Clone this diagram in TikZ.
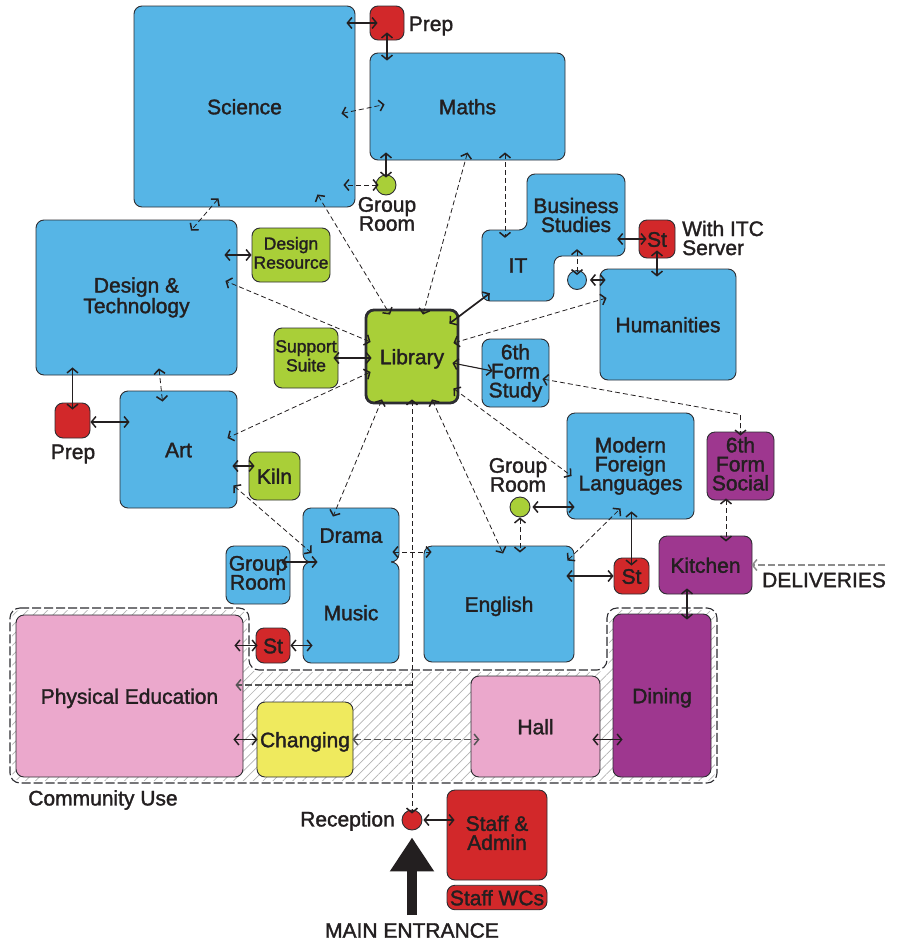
\documentclass[tikz,border=0pt]{standalone}
\usepackage{fontspec}
\setmainfont{Liberation Sans}[FakeBold=1.6]
\usepackage{tikz}
\usetikzlibrary{arrows.meta}
\usetikzlibrary{patterns.meta}

\definecolor{roomblue}{RGB}{86,181,230}
\definecolor{roomgreen}{RGB}{169,207,56}
\definecolor{roomred}{RGB}{210,40,42}
\definecolor{roompurple}{RGB}{158,55,143}
\definecolor{roompink}{RGB}{235,168,204}
\definecolor{roomyellow}{RGB}{239,234,94}
\definecolor{ink}{RGB}{35,31,32}
\definecolor{edge}{RGB}{45,45,50}
\definecolor{lane}{RGB}{85,85,85}
\definecolor{road}{RGB}{140,140,140}
\definecolor{hatch}{RGB}{178,178,178}

\newcommand{\roomfont}{\fontsize{21}{19}\selectfont}
\newcommand{\resfont}{\fontsize{17.5}{19}\selectfont}

\begin{document}
\begin{tikzpicture}
    [
    x=1pt, y=-1pt,
    >={Straight Barb[length=4.5pt,width=11pt,line width=1.5pt]},
    room/.style={draw=edge,line width=0.9pt,rounded corners=8pt,inner sep=0pt,align=center,text=ink,font=\roomfont,
      execute at begin node={\rule{0pt}{20pt}},execute at end node={\rule[-4.5pt]{0pt}{4.5pt}}},
    dims/.style 2 args={minimum width=#1pt,minimum height=#2pt},
    bluebox/.style={room,fill=roomblue},
    greenbox/.style={room,fill=roomgreen},
    redbox/.style={room,fill=roomred},
    purplebox/.style={room,fill=roompurple},
    pinkbox/.style={room,fill=roompink},
    yellowbox/.style={room,fill=roomyellow},
    spot/.style={circle,draw=edge,line width=0.9pt,inner sep=0pt,minimum size=#1pt},
    lbl/.style={text=ink,font=\roomfont,align=center,inner sep=0pt},
    link/.style={draw=ink,line width=1.7pt,<->},
    slink/.style={draw=ink,line width=1.1pt,<->},
    dlink/.style={draw=ink,line width=0.8pt,dash pattern=on 5pt off 3pt,<->},
    glink/.style={draw=lane,line width=1.3pt,dash pattern=on 7pt off 3pt},
    ends/.style 2 args={shorten <=-#1pt,shorten >=-#2pt}
    ]
    \useasboundingbox (0,0) rectangle (898,945);

    % community use zone
    \path [rounded corners=10pt,pattern={Lines[angle=45,distance=7pt,line width=0.7pt]},pattern color=hatch,
      postaction={draw=white,line width=4pt},
      postaction={draw=edge,line width=1.1pt,dash pattern=on 9pt off 3pt}]
      (10,608) -- (249,608) -- (249,670) -- (607,670) -- (607,608) -- (717,608) -- (717,783) -- (10,783) -- cycle;

    % IT and business studies share one outline
    \filldraw [fill=roomblue,draw=edge,line width=0.9pt,rounded corners=8pt]
      (527,174) -- (625,174) -- (625,256) -- (554,256) -- (554,301) -- (482,301) -- (482,230) -- (527,230) -- cycle;

    \node (sci) at (244.5,106.5) [bluebox,dims={221}{201}] {Science};
    \node (prepA) at (387,23) [redbox,dims={34}{34}] {};
    \node (prepAtxt) at (431,26) [lbl] {Prep};
    \node (maths) at (467.5,106.5) [bluebox,dims={195}{107}] {Maths};
    \node (grpA) at (386,185) [spot=20,fill=roomgreen] {};
    \node (grpAtxt) at (387,214) [lbl] {Group\\Room};
    \node (dt) at (136.5,297.5) [bluebox,dims={201}{155}] {Design \&\\Technology};
    \node (dres) at (291,255) [greenbox,dims={78}{54},font=\resfont] {Design\\Resource};
    \node (bus) at (576,215) [lbl,dims={98}{82}] {Business\\Studies};
    \node (it) at (518,265.5) [lbl,dims={72}{71}] {IT};
    \node (stB) at (657,239) [redbox,dims={36}{38}] {St};
    \node (itc) at (682,238) [lbl,anchor=west,align=left] {With ITC\\Server};
    \node (hcirc) at (577,280) [spot=19,fill=roomblue] {};
    \node (hum) at (668,324.5) [bluebox,dims={136}{111}] {Humanities};
    \node (lib) at (412,356.5) [greenbox,dims={92}{93},line width=2.8pt] {Library};
    \node (sup) at (306,358) [greenbox,dims={64}{60},font=\resfont] {Support\\Suite};
    \node (fstudy) at (515.5,373) [bluebox,dims={67}{68}] {6th\\Form\\Study};
    \node (prepL) at (72.5,420.5) [redbox,dims={35}{35}] {};
    \node (prepLtxt) at (73,454) [lbl] {Prep};
    \node (art) at (178.5,449.5) [bluebox,dims={117}{117}] {Art};
    \node (kiln) at (274.5,476) [greenbox,dims={51}{48}] {Kiln};
    \node (drama) at (351,535) [bluebox,dims={96}{54}] {Drama};
    \node (music) at (351,612.5) [bluebox,dims={96}{101}] {Music};
    \fill [roomblue] ([shift={(8,-4)}]drama.south west) rectangle ([shift={(-8,4)}]drama.south east);
    \node (grpL) at (258,575) [bluebox,dims={64}{58}] {Group\\Room};
    \node (eng) at (499,604) [bluebox,dims={150}{116}] {English};
    \node (grpM) at (520,507) [spot=20,fill=roomgreen] {};
    \node (grpMtxt) at (518,475) [lbl] {Group\\Room};
    \node (mfl) at (630.5,466) [bluebox,dims={127}{106}] {Modern\\Foreign\\Languages};
    \node (social) at (740.5,466) [purplebox,dims={67}{68}] {6th\\Form\\Social};
    \node (stE) at (631.5,576) [redbox,dims={35}{36}] {St};
    \node (kitchen) at (705.5,565) [purplebox,dims={93}{58}] {Kitchen};
    \node (dlvtxt) at (824,580) [lbl] {DELIVERIES};
    \coordinate (dlv) at (885,565);
    \node (pe) at (129.5,696) [pinkbox,dims={227}{162}] {Physical Education};
    \node (stP) at (273,645.5) [redbox,dims={34}{35}] {St};
    \node (chg) at (305,739.5) [yellowbox,dims={96}{75}] {Changing};
    \node (hall) at (535.5,726.5) [pinkbox,dims={129}{101}] {Hall};
    \node (dining) at (662,695.5) [purplebox,dims={98}{163}] {Dining};
    \node (comm) at (103,800) [lbl] {Community Use};
    \node (rec) at (412,820) [spot=20,fill=roomred] {};
    \node (rectxt) at (347.5,821) [lbl] {Reception};
    \node (staff) at (497,835) [redbox,dims={100}{90}] {Staff \&\\Admin};
    \node (wcs) at (497,897.5) [redbox,dims={100}{21},execute at begin node={\rule{0pt}{16pt}},execute at end node={\rule[-4pt]{0pt}{4pt}}] {Staff WCs};
    \node (mainent) at (412,930.5) [lbl] {MAIN ENTRANCE};
    \coordinate (entr) at (412,915);
    \coordinate (peT) at (412,685);

    % science, maths and the top rooms
    \draw [link,ends={8}{9}] (prepA.west) -- (prepA.west -| sci.east);
    \draw [link,ends={8}{8}] (prepA.south) -- (prepA.south |- maths.north);
    \draw [dlink] ([shift={(-14,7)}]sci.east) -- ([shift={(15,-2)}]maths.west);
    \draw [link,ends={3}{8}] (grpA.north) -- (grpA.north |- maths.south);
    \draw [dlink,ends={3}{12}] (grpA.west) -- (grpA.west -| sci.east);
    \draw [dlink] ([shift={(-26,-9)}]sci.south) -- ([shift={(54.5,11)}]dt.north);
    \draw [dlink] ([shift={(-38,-13)}]sci.south east) -- ([shift={(-22,6)}]lib.north);
    \draw [dlink] ([shift={(0,-8)}]maths.south) -- ([shift={(11,6)}]lib.north);
    \draw [dlink] ([shift={(37.5,-8)}]maths.south) -- ([shift={(-13,8)}]it.north);
    \draw [dlink] ([shift={(1,-7)}]bus.south) -- ([shift={(0,5)}]hcirc.north);
    \draw [link,shorten <=3pt,shorten >=-6pt] (hcirc.east) -- (hcirc.east -| hum.west);
    \draw [link,ends={8}{8}] (stB.west) -- (stB.west -| bus.east);
    \draw [link,ends={8}{8}] (stB.south) -- (stB.south |- hum.north);

    % library links
    \draw [link] ([shift={(-10,15)}]lib.north east) -- ([shift={(8,-8)}]it.south west);
    \draw [dlink] ([shift={(-6,-13.5)}]lib.east) -- ([shift={(7,-26.5)}]hum.west);
    \draw [slink] ([shift={(-7,6.5)}]lib.east) -- ([shift={(11,-2)}]fstudy.west);
    \draw [dlink] ([shift={(-7,6)}]fstudy.east) -- ([shift={(0,-17)}]social.north) -- ([shift={(0,4)}]social.north);
    \draw [slink,ends={5}{7}] (sup.east) -- (sup.east -| lib.west);
    \draw [dlink] ([shift={(6,-14.5)}]lib.west) -- ([shift={(-12,-16.5)}]dt.east);
    \draw [dlink] ([shift={(6,15.5)}]lib.west) -- ([shift={(-10,-11.5)}]art.east);
    \draw [dlink] ([shift={(-30,-5)}]lib.south) -- ([shift={(-18,9)}]drama.north);
    \draw [dlink,line width=1pt] ([shift={(0,-5)}]lib.south) -- ([shift={(0,4)}]rec.north);
    \draw [dlink] ([shift={(20,-5)}]lib.south) -- ([shift={(4,8)}]eng.north);
    \draw [dlink] ([shift={(-6,-16)}]lib.south east) -- ([shift={(5,10)}]mfl.west);

    % west wing
    \draw [link,ends={0}{13}] (dres.west) -- (dres.west -| dt.east);
    \draw [dlink] ([shift={(22.5,-7)}]dt.south) -- ([shift={(-16,11)}]art.north);
    \draw [link,ends={7}{8}] (prepL.north) -- (prepL.north |- dt.south);
    \draw [link,ends={0}{10}] ([shift={(0,1.5)}]prepL.east) -- ([shift={(0,1.5)}]prepL.east -| art.west);
    \draw [link,ends={6}{5}] ([shift={(0,-10)}]kiln.west) -- ([shift={(0,-10)}]kiln.west -| art.east);
    \draw [dlink] ([shift={(-4,-23)}]art.south east) -- ([shift={(9,18)}]drama.west);
    \draw [link,ends={9}{15}] ([shift={(0,-13)}]grpL.east) -- ([shift={(0,-13)}]grpL.east -| music.west);
    \draw [dlink,ends={7}{8}] ([shift={(0,17)}]drama.east) -- ([shift={(0,17)}]drama.east -| eng.west);

    % east wing
    \draw [slink,shorten <=2pt,shorten >=-8pt] (grpM.east) -- (grpM.east -| mfl.west);
    \draw [dlink,ends={0}{7}] (grpM.south) -- (grpM.south |- eng.north);
    \draw [dlink] ([shift={(-7,15)}]eng.north east) -- ([shift={(-10,-11)}]mfl.south);
    \draw [slink,ends={8}{8}] (stE.north) -- (stE.north |- mfl.south);
    \draw [link,ends={0}{8}] (stE.west) -- (stE.west -| eng.east);
    \draw [dlink,ends={2}{6}] ([shift={(-14.5,0)}]social.south) -- ([shift={(-14.5,0)}]social.south |- kitchen.north);
    \draw [link,ends={6}{6}] ([shift={(-18.5,0)}]kitchen.south) -- ([shift={(-18.5,0)}]kitchen.south |- dining.north);
    \draw [glink,draw=road,line width=1.8pt,->,shorten >=-1pt] (dlv) -- (kitchen.east);

    % community use
    \draw [link,ends={2}{9}] (stP.west) -- (stP.west -| pe.east);
    \draw [link,ends={0}{10}] (stP.east) -- (stP.east -| music.west);
    \draw [glink,->,shorten >=-8pt] (peT) -- (peT -| pe.east);
    \draw [link,ends={1}{10}] (chg.west) -- (chg.west -| pe.east);
    \draw [glink,<->,shorten <=-1pt,shorten >=-9pt] (chg.east) -- (chg.east -| hall.west);
    \draw [link,ends={8}{10}] ([shift={(0,13)}]hall.east) -- ([shift={(0,13)}]hall.east -| dining.west);

    % entrance
    \draw [slink,shorten <=1pt,shorten >=-8pt] (rec.east) -- (rec.east -| staff.west);
    \draw [draw=ink,line width=10.6pt,-{Triangle[length=34pt,width=42pt]}] (entr) -- ([shift={(0,7)}]rec.south);
\end{tikzpicture}
\end{document}
